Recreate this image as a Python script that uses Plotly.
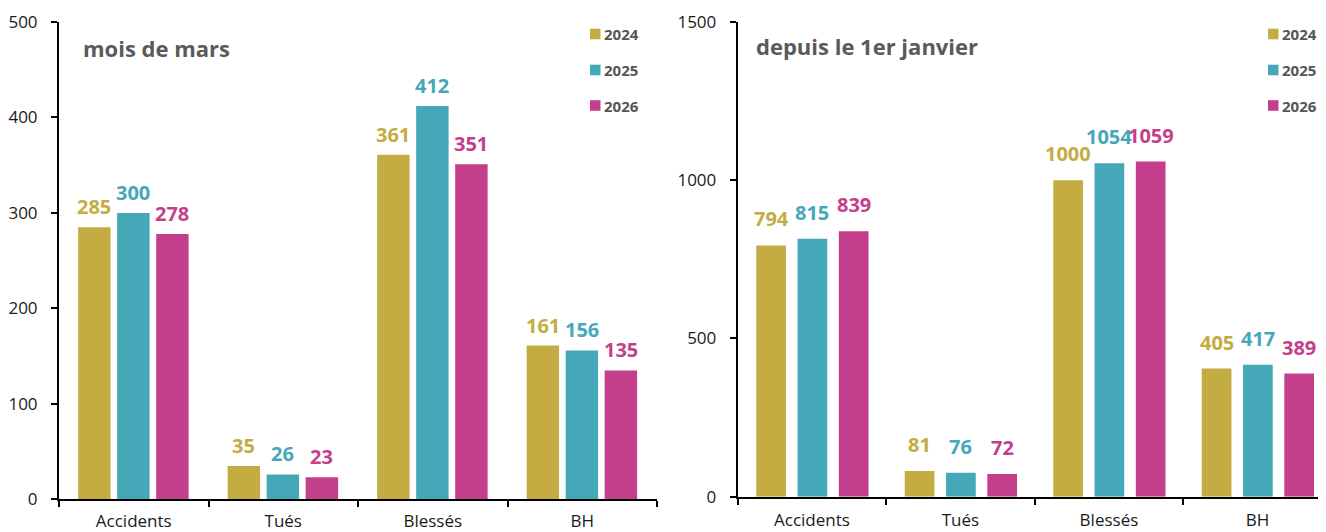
import plotly.graph_objects as go

categories = ["Accidents", "Tués", "Blessés", "BH"]
years = ["2024", "2025", "2026"]
colors = ["#C4AC42", "#45A8B8", "#C43F8B"]

mars_2024 = [285, 35, 361, 161]
mars_2025 = [300, 26, 412, 156]
mars_2026 = [278, 23, 351, 135]

janv_2024 = [794, 81, 1000, 405]
janv_2025 = [815, 76, 1054, 417]
janv_2026 = [839, 72, 1059, 389]

left_ticks = [0, 100, 200, 300, 400, 500]
right_ticks = [0, 500, 1000, 1500]

# The page body has an 8px margin: work in screen pixels and shift.
OFF = 8
W, H = 1326 - OFF, 532 - OFF
FONT = "Open Sans"


def px(x):
    return (x - OFF) / W


def py(y):
    return (H - (y - OFF)) / H


fig = go.Figure()

left_series = [mars_2024, mars_2025, mars_2026]
right_series = [janv_2024, janv_2025, janv_2026]
left_offsets = [-0.372, -0.111, 0.150]
right_offsets = [-0.375, -0.097, 0.181]
LEFT_W, RIGHT_W = 0.217, 0.2
LEFT_CAT_PX, RIGHT_CAT_PX = 149.5, 148.5

panels = [
    (left_series, left_offsets, LEFT_W, LEFT_CAT_PX, "x", "y", 5),
    (right_series, right_offsets, RIGHT_W, RIGHT_CAT_PX, "x2", "y2", 11),
]

for series, offsets, bw, catpx, xa, ya, gap in panels:
    for i, vals in enumerate(series):
        fig.add_trace(go.Bar(
            x=categories, y=vals, name=years[i], marker_color=colors[i],
            marker_line_width=0, width=bw, offset=offsets[i],
            showlegend=False, xaxis=xa, yaxis=ya,
        ))
        for cat, v in zip(categories, vals):
            fig.add_annotation(
                x=cat, y=v, xref=xa, yref=ya, text=str(v), showarrow=False,
                xanchor="center", yanchor="bottom",
                xshift=(offsets[i] + bw / 2) * catpx, yshift=gap,
                font=dict(family=FONT, size=20, color=colors[i], weight="bold"),
            )

axis_common = dict(
    showline=True, linecolor="black", linewidth=2, showgrid=False, zeroline=False,
    ticks="outside", tickcolor="black", tickwidth=2, ticklen=6, automargin=False,
)

fig.update_layout(
    width=W, height=H,
    margin=dict(l=0, r=0, t=0, b=0, pad=0),
    paper_bgcolor="white", plot_bgcolor="white",
    barmode="overlay",
    font=dict(family=FONT, color="#1a1a1a"),
    xaxis=dict(**axis_common, domain=[px(59), px(657)], anchor="y",
               range=[-0.5, 3.5], tickson="boundaries", type="category",
               tickfont=dict(size=17, color="#1a1a1a"), ticklabelstandoff=5),
    yaxis=dict(**axis_common, domain=[py(499.3), py(22)], anchor="x",
               range=[0, 500], tickvals=left_ticks,
               tickfont=dict(size=17, color="#1a1a1a"), ticklabelstandoff=10),
    xaxis2=dict(**axis_common, domain=[px(737.7), 1.0], anchor="y2",
                range=[-0.5, -0.5 + (1326 - 737.7) / RIGHT_CAT_PX], tickson="boundaries",
                type="category",
                tickfont=dict(size=17, color="#1a1a1a"), ticklabelstandoff=7),
    yaxis2=dict(**axis_common, domain=[py(496.7), py(22)], anchor="x2",
                range=[0, 1500], tickvals=right_ticks,
                tickfont=dict(size=17, color="#1a1a1a"), ticklabelstandoff=10),
)

# Titles
fig.add_annotation(text="mois de mars", x=px(81), y=py(48), xref="paper", yref="paper",
                   xanchor="left", yanchor="middle", showarrow=False,
                   font=dict(family=FONT, size=22, color="#5a5a5a", weight="bold"))
fig.add_annotation(text="depuis le 1er janvier", x=px(754), y=py(46), xref="paper", yref="paper",
                   xanchor="left", yanchor="middle", showarrow=False,
                   font=dict(family=FONT, size=22, color="#5a5a5a", weight="bold"))

# Custom legends
rows = [34, 70, 105.5]
for lx in (590, 1268):
    for i, yr in enumerate(years):
        yc = rows[i]
        fig.add_shape(type="rect", xref="paper", yref="paper",
                      x0=px(lx), x1=px(lx + 10.5), y0=py(yc + 5.3), y1=py(yc - 5.3),
                      fillcolor=colors[i], line_width=0)
        fig.add_annotation(text=yr, x=px(lx + 12), y=py(yc), xref="paper", yref="paper",
                           xanchor="left", yanchor="middle", showarrow=False,
                           font=dict(family=FONT, size=15, color="#555555", weight="bold"))

fig.write_html("out.html")
